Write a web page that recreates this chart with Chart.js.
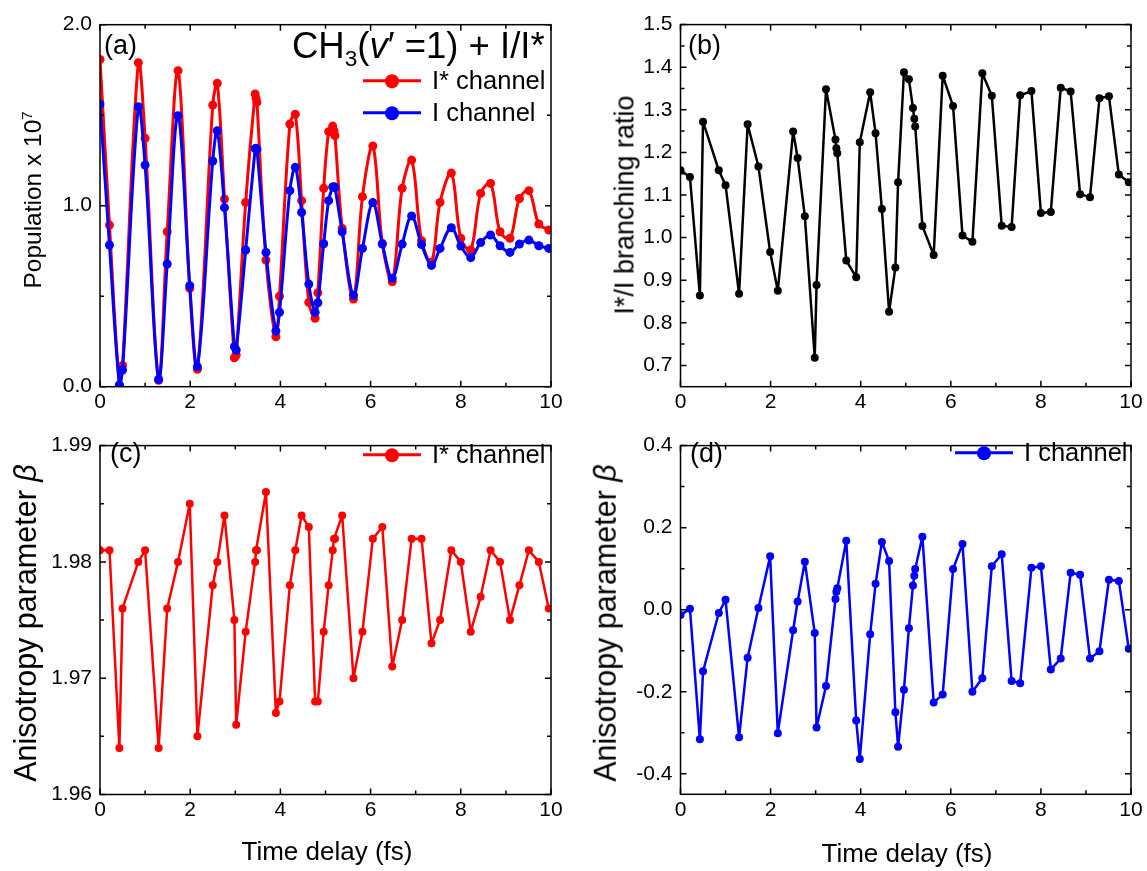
<!DOCTYPE html>
<html>
<head>
<meta charset="utf-8">
<title>CH3 population, branching ratio and anisotropy</title>
<script src="https://cdn.jsdelivr.net/npm/chart.js@4.4.1/dist/chart.umd.min.js"></script>
<style>
  body { margin: 0; width: 1147px; height: 871px; background: #fff; position: relative; overflow: hidden;
         font-family: "Liberation Sans", Arial, sans-serif; color: #000; }
  canvas { position: absolute; }
  .txt { position: absolute; white-space: nowrap; line-height: 1; }
  .ytitle { position: absolute; white-space: nowrap; line-height: 1;
            transform: translate(-50%, -50%) rotate(-90deg); }
  .xtitle { position: absolute; white-space: nowrap; line-height: 1; font-size: 26px;
            transform: translate(-50%, -50%); }
  .ytitle sup { font-size: 60%; vertical-align: 0.6em; }
  .panel { font-size: 27px; }
  .note { font-size: 36.5px; }
  .note sub { font-size: 62%; vertical-align: -0.35em; }
  .leg { position: absolute; white-space: nowrap; font-size: 25.5px; line-height: 1;
         transform: translateY(-50%); display: flex; align-items: center; }
  .sw { display: inline-block; width: 58px; height: 3px; position: relative; margin-right: 11px; }
  .sw::after { content: ""; position: absolute; left: 50%; top: 50%; width: 14px; height: 14px;
               border-radius: 50%; background: inherit; transform: translate(-50%, -50%); }
</style>
</head>
<body>
<canvas id="chartA"></canvas>
<canvas id="chartB"></canvas>
<canvas id="chartC"></canvas>
<canvas id="chartD"></canvas>

<div class="txt panel" style="left:104px;top:32px">(a)</div>
<div class="txt panel" style="left:688px;top:32px">(b)</div>
<div class="txt panel" style="left:110px;top:440px">(c)</div>
<div class="txt panel" style="left:690px;top:440px">(d)</div>
<div class="txt note" style="left:292px;top:28px">CH<sub>3</sub>(<i>v</i>′ =1) + I/I*</div>

<div class="ytitle" style="left:33px;top:200px;font-size:24.5px">Population x 10<sup>7</sup></div>
<div class="ytitle" style="left:625px;top:205px;font-size:27px">I*/I branching ratio</div>
<div class="ytitle" style="left:25px;top:623px;font-size:30.5px">Anisotropy parameter <i>β</i></div>
<div class="ytitle" style="left:605px;top:623px;font-size:30.5px">Anisotropy parameter <i>β</i></div>
<div class="xtitle" style="left:327px;top:851px">Time delay (fs)</div>
<div class="xtitle" style="left:907px;top:853px">Time delay (fs)</div>

<script>
// time delays (fs), shared by all four panels
const delays = [0, 0.21, 0.43, 0.50, 0.85, 1.0, 1.30, 1.49, 1.73, 1.99, 2.16, 2.50, 2.60, 2.76, 2.98, 3.02,
  3.23, 3.44, 3.46, 3.48, 3.68, 3.90, 3.98, 4.21, 4.33, 4.47, 4.63, 4.77, 4.83, 4.96, 5.07, 5.16, 5.19,
  5.21, 5.37, 5.62, 5.82, 6.05, 6.26, 6.48, 6.70, 6.91, 7.13, 7.35, 7.54, 7.79, 8.0, 8.22, 8.44, 8.66,
  8.87, 9.09, 9.30, 9.51, 9.73, 9.95];

// (a) populations x 1e7
const popIstar = [1.808, 0.893, 0.009, 0.117, 1.79, 1.372, 0.035, 0.856, 1.746, 0.543, 0.096, 1.556, 1.676,
  1.037, 0.16, 0.175, 1.018, 1.617, 1.593, 1.571, 0.70, 0.276, 0.50, 1.451, 1.505, 1.028, 0.466, 0.378,
  0.519, 1.096, 1.409, 1.44, 1.413, 1.387, 0.875, 0.484, 1.05, 1.33, 0.792, 0.58, 1.096, 1.252, 0.807,
  0.687, 1.018, 1.18, 0.82, 0.755, 1.068, 1.123, 0.856, 0.82, 1.04, 1.083, 0.899, 0.866];
const popI = [1.562, 0.783, 0.01, 0.092, 1.547, 1.225, 0.04, 0.678, 1.497, 0.558, 0.11, 1.247, 1.414, 0.989,
  0.221, 0.203, 0.755, 1.315, 1.317, 1.311, 0.742, 0.308, 0.411, 1.083, 1.212, 0.963, 0.567, 0.411, 0.464,
  0.79, 1.028, 1.104, 1.105, 1.10, 0.856, 0.505, 0.764, 1.017, 0.788, 0.599, 0.788, 0.943, 0.785, 0.67,
  0.764, 0.878, 0.777, 0.713, 0.796, 0.838, 0.779, 0.742, 0.788, 0.81, 0.779, 0.764];

// (b) I*/I branching ratio
const ratio = [1.158, 1.142, 0.864, 1.272, 1.158, 1.123, 0.868, 1.266, 1.167, 0.966, 0.875, 1.249, 1.187,
  1.050, 0.718, 0.889, 1.348, 1.230, 1.210, 1.198, 0.946, 0.907, 1.224, 1.341, 1.245, 1.067, 0.826, 0.930,
  1.130, 1.388, 1.372, 1.304, 1.279, 1.261, 1.027, 0.959, 1.380, 1.309, 1.005, 0.990, 1.386, 1.333, 1.028,
  1.025, 1.334, 1.344, 1.058, 1.060, 1.352, 1.343, 1.102, 1.095, 1.327, 1.332, 1.148, 1.130];

// (c) anisotropy, I* channel
const betaIstar = [1.981, 1.981, 1.964, 1.976, 1.980, 1.981, 1.964, 1.976, 1.980, 1.985, 1.965, 1.978, 1.980,
  1.984, 1.975, 1.966, 1.974, 1.980, 1.981, 1.981, 1.986, 1.967, 1.968, 1.978, 1.981, 1.984, 1.983, 1.968,
  1.968, 1.974, 1.978, 1.981, 1.982, 1.982, 1.984, 1.970, 1.974, 1.982, 1.983, 1.971, 1.975, 1.982, 1.982,
  1.973, 1.975, 1.981, 1.980, 1.974, 1.977, 1.981, 1.980, 1.975, 1.978, 1.981, 1.980, 1.976];

// (d) anisotropy, I channel
const betaI = [-0.013, 0.002, -0.316, -0.150, -0.008, 0.024, -0.311, -0.117, 0.004, 0.130, -0.301, -0.050,
  0.020, 0.117, -0.057, -0.287, -0.186, 0.026, 0.044, 0.052, 0.168, -0.270, -0.364, -0.060, 0.063, 0.165,
  0.119, -0.250, -0.334, -0.195, -0.045, 0.059, 0.083, 0.099, 0.178, -0.226, -0.207, 0.099, 0.160, -0.200,
  -0.167, 0.106, 0.135, -0.174, -0.179, 0.102, 0.106, -0.146, -0.119, 0.090, 0.085, -0.119, -0.101, 0.073,
  0.070, -0.095];

// tick values
const xTicks = [0, 2, 4, 6, 8, 10];
const xMinor = [1, 3, 5, 7, 9];
const popTicks = [0, 1, 2];
const popMinor = [0.5, 1.5];
const ratioTicks = [0.7, 0.8, 0.9, 1.0, 1.1, 1.2, 1.3, 1.4, 1.5];
const ratioMinor = [0.75, 0.85, 0.95, 1.05, 1.15, 1.25, 1.35, 1.45];
const betaStarTicks = [1.96, 1.97, 1.98, 1.99];
const betaStarMinor = [1.965, 1.975, 1.985];
const betaTicks = [-0.4, -0.2, 0.0, 0.2, 0.4];
const betaMinor = [-0.3, -0.1, 0.1, 0.3];

Chart.defaults.font.family = '"Liberation Sans", Arial, sans-serif';
Chart.defaults.font.size = 21;
Chart.defaults.color = '#000';

/* ------------ frame + inward ticks on all four sides ------------ */
const frameTicks = {
  id: 'frameTicks',
  afterDraw(chart, args, opts) {
    const { ctx, chartArea: a, scales: { x, y } } = chart;
    ctx.save();
    ctx.strokeStyle = '#000';
    ctx.lineWidth = 1.5;
    ctx.beginPath();
    const seg = (x1, y1, x2, y2) => { ctx.moveTo(x1, y1); ctx.lineTo(x2, y2); };
    const xt = (vals, len) => vals.forEach(v => {
      const p = x.getPixelForValue(v);
      seg(p, a.bottom, p, a.bottom - len);
      seg(p, a.top, p, a.top + len);
    });
    const yt = (vals, len) => vals.forEach(v => {
      const p = y.getPixelForValue(v);
      seg(a.left, p, a.left + len, p);
      seg(a.right, p, a.right - len, p);
    });
    xt(opts.xMajor, 6); xt(opts.xMinor, 4);
    yt(opts.yMajor, 6); yt(opts.yMinor, 4);
    ctx.stroke();
    ctx.strokeRect(a.left, a.top, a.right - a.left, a.bottom - a.top);
    ctx.restore();
  }
};

function series(label, values, color, width, radius, tension) {
  return {
    label,
    data: delays.map((t, i) => ({ x: t, y: values[i] })),
    borderColor: color,
    backgroundColor: color,
    borderWidth: width,
    borderJoinStyle: 'round',
    borderCapStyle: 'round',
    pointRadius: radius,
    pointBorderWidth: 0,
    pointBackgroundColor: color,
    tension: tension
  };
}

function makePanel(id, box, area, datasets, yCfg) {
  const cv = document.getElementById(id);
  cv.style.left = box.left + 'px';
  cv.style.top = box.top + 'px';
  cv.width = box.w; cv.height = box.h;
  cv.style.width = box.w + 'px'; cv.style.height = box.h + 'px';

  const yWidth = area.left - box.left;
  const padTop = area.top - box.top;
  const padRight = box.left + box.w - area.right;
  const xHeight = box.top + box.h - area.bottom;

  return new Chart(cv, {
    type: 'line',
    data: { datasets },
    options: {
      responsive: false,
      animation: false,
      events: [],
      layout: { padding: { left: 0, top: padTop, right: padRight, bottom: 0 } },
      plugins: {
        legend: { display: false },
        tooltip: { enabled: false },
        frameTicks: { xMajor: xTicks, xMinor: xMinor, yMajor: yCfg.ticks, yMinor: yCfg.minor }
      },
      scales: {
        x: {
          type: 'linear', min: 0, max: 10,
          grid: { display: false, drawTicks: false },
          border: { display: false },
          afterBuildTicks: s => { s.ticks = xTicks.map(v => ({ value: v })); },
          afterFit: s => { s.height = xHeight; },
          ticks: { padding: 3, maxRotation: 0, callback: v => String(v) }
        },
        y: {
          type: 'linear', min: yCfg.min, max: yCfg.max,
          grid: { display: false, drawTicks: false },
          border: { display: false },
          afterBuildTicks: s => { s.ticks = yCfg.ticks.map(v => ({ value: v })); },
          afterFit: s => { s.width = yWidth; },
          ticks: { padding: 8, callback: v => Number(v).toFixed(yCfg.digits) }
        }
      }
    },
    plugins: [frameTicks]
  });
}

makePanel('chartA', { left: 0, top: 0, w: 573, h: 425 }, { left: 100, top: 24.7, right: 551, bottom: 386.7 },
  [series('I channel', popI, '#0000ff', 3, 4.5, 0.35), series('I* channel', popIstar, '#ff0000', 3, 4.5, 0.35)],
  { min: 0, max: 2, ticks: popTicks, minor: popMinor, digits: 1 });

makePanel('chartB', { left: 573, top: 0, w: 574, h: 425 }, { left: 680.5, top: 24.6, right: 1131, bottom: 386.7 },
  [series('I*/I', ratio, '#000000', 2.5, 4, 0)],
  { min: 0.65, max: 1.5, ticks: ratioTicks, minor: ratioMinor, digits: 1 });

makePanel('chartC', { left: 0, top: 425, w: 573, h: 446 }, { left: 100, top: 432.3, right: 551, bottom: 794.5 },
  [series('I* channel', betaIstar, '#ff0000', 2.5, 4, 0)],
  { min: 1.96, max: 1.99, ticks: betaStarTicks, minor: betaStarMinor, digits: 2 });

makePanel('chartD', { left: 573, top: 425, w: 574, h: 446 }, { left: 680.5, top: 432.3, right: 1131, bottom: 794.3 },
  [series('I channel', betaI, '#0000ff', 2.5, 4, 0)],
  { min: -0.45, max: 0.4, ticks: betaTicks, minor: betaMinor, digits: 1 });

/* ------------ legends ------------ */
function addLegend(x, y, color, text) {
  const d = document.createElement('div');
  d.className = 'leg';
  d.style.left = x + 'px';
  d.style.top = y + 'px';
  d.innerHTML = `<span class="sw" style="background:${color}"></span>${text}`;
  document.body.appendChild(d);
}
addLegend(363, 81, '#ff0000', 'I* channel');
addLegend(363, 113, '#0000ff', 'I channel');
addLegend(363, 455, '#ff0000', 'I* channel');
addLegend(955, 453, '#0000ff', 'I channel');
</script>
</body>
</html>
